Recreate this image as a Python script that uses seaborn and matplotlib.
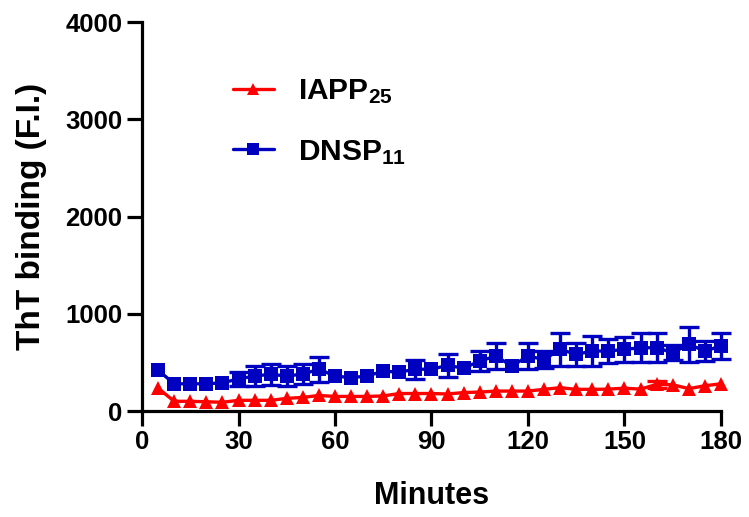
import numpy as np
import pandas as pd
import matplotlib
matplotlib.use("Agg")
import matplotlib.pyplot as plt
import seaborn as sns
from matplotlib.lines import Line2D

minutes = list(range(5, 181, 5))
iapp_mean = [235, 100, 100, 95, 90, 110, 110, 110, 130, 140, 160, 150, 150, 150, 155, 180, 180, 180,
             175, 190, 195, 205, 205, 205, 223, 240, 223, 223, 225, 235, 225, 274, 270, 230, 260, 280]
iapp_err = [0, 0, 0, 0, 0, 0, 0, 0, 0, 0, 0, 0, 0, 0, 0, 0, 0, 0,
            0, 0, 0, 0, 0, 0, 0, 0, 0, 0, 0, 0, 0, 35, 0, 0, 0, 0]
dnsp_mean = [420, 280, 280, 280, 290, 330, 360, 378, 360, 380, 430, 360, 343, 360, 410, 400, 430, 430,
             470, 440, 514, 565, 463, 565, 530, 634, 583, 617, 617, 634, 651, 651, 600, 686, 617, 669]
dnsp_err = [0, 0, 0, 0, 0, 70, 100, 110, 100, 100, 130, 0, 0, 0, 0, 0, 100, 0,
            120, 0, 100, 130, 0, 130, 90, 170, 120, 150, 120, 130, 150, 150, 80, 180, 100, 130]
labels = ["IAPP$_{25}$", "DNSP$_{11}$"]

sns.set_style("ticks", {"axes.edgecolor": "black", "xtick.color": "black", "ytick.color": "black",
                        "text.color": "black", "axes.labelcolor": "black"})
plt.rcParams["font.family"] = ["Liberation Sans", "DejaVu Sans"]
plt.rcParams["font.weight"] = "bold"
plt.rcParams["mathtext.fontset"] = "custom"
plt.rcParams["mathtext.rm"] = "Liberation Sans:bold"
plt.rcParams["mathtext.it"] = "Liberation Sans:bold"
plt.rcParams["mathtext.bf"] = "Liberation Sans:bold"

fig = plt.figure(figsize=(7.49, 5.17), dpi=100)
ax = fig.add_axes([0.1896, 0.205, 0.773, 0.752])

df = pd.DataFrame({
    "Minutes": minutes * 2,
    "value": iapp_mean + dnsp_mean,
    "series": [labels[0]] * len(minutes) + [labels[1]] * len(minutes),
})
red = "#FF0000"
blue = "#0000C0"
palette = {labels[0]: red, labels[1]: blue}

for mean, err, col in [(dnsp_mean, dnsp_err, blue), (iapp_mean, iapp_err, red)]:
    xs = [m for m, e in zip(minutes, err) if e > 0]
    ys = [v for v, e in zip(mean, err) if e > 0]
    es = [e for e in err if e > 0]
    ax.errorbar(xs, ys, yerr=es, fmt="none", ecolor=col, elinewidth=2.4,
                capsize=7, capthick=2.4, clip_on=False, zorder=2)

sns.lineplot(data=df, x="Minutes", y="value", hue="series", style="series",
             markers={labels[0]: "^", labels[1]: "s"}, dashes=False, palette=palette,
             linewidth=2.4, markersize=10, markeredgewidth=0, ax=ax, legend=False, zorder=3)
for ln in ax.lines:
    ln.set_clip_on(False)

ax.set_xlim(0, 180)
ax.set_ylim(0, 4000)
ax.set_xticks(range(0, 181, 30))
ax.set_yticks(range(0, 4001, 1000))
ax.tick_params(axis="both", width=2.3, length=11, labelsize=18.5, pad=3, colors="black")
for lab in ax.get_xticklabels() + ax.get_yticklabels():
    lab.set_fontweight("bold")
for s in ["left", "bottom"]:
    ax.spines[s].set_linewidth(2.3)
    ax.spines[s].set_color("black")
sns.despine(ax=ax)
ax.set_xlabel("Minutes", fontsize=22, fontweight="bold", labelpad=19, color="black")
ax.set_ylabel("ThT binding (F.I.)", fontsize=24, fontweight="bold", labelpad=13, color="black")

handles = [Line2D([], [], color=red, marker="^", markersize=8, linewidth=2.4, markeredgewidth=0),
           Line2D([], [], color=blue, marker="s", markersize=8, linewidth=2.4, markeredgewidth=0)]
leg = ax.legend(handles, labels, loc="upper left", bbox_to_anchor=(0.11, 0.928), frameon=False,
                fontsize=21.5, handlelength=1.4, labelspacing=1.07, handletextpad=0.8)
for t in leg.get_texts():
    t.set_color("black")

fig.savefig("out.png", dpi=100)
